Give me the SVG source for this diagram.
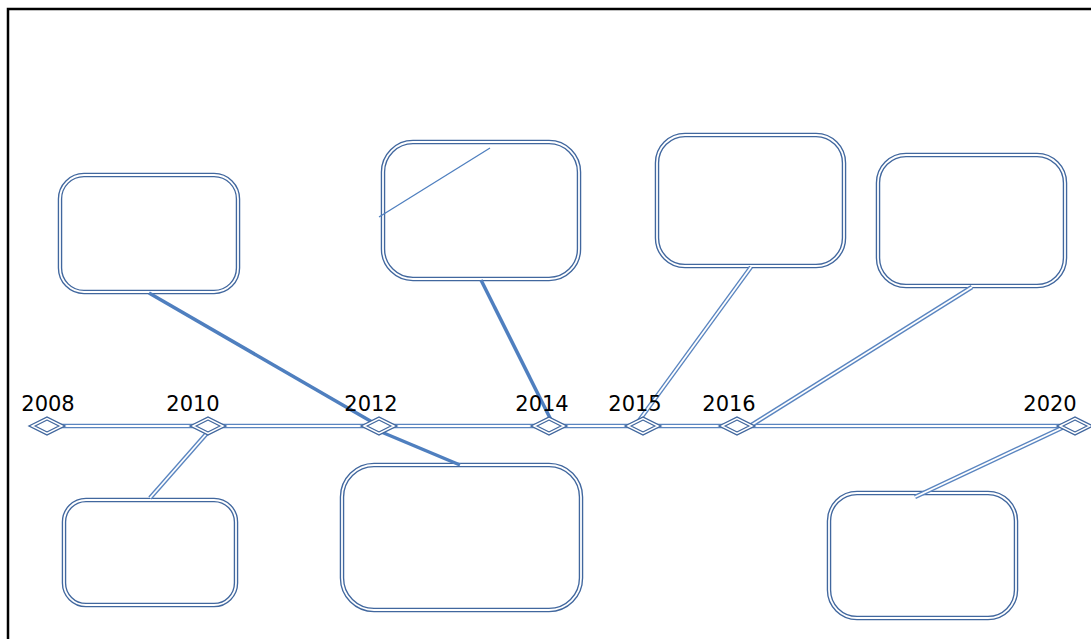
<svg xmlns="http://www.w3.org/2000/svg" width="1091" height="639" viewBox="0 0 1091 639">
<style>
.frame{fill:none;stroke:#000;stroke-width:2.5}
.dbl-o{fill:#fff;stroke:#41679e;stroke-width:4.5}
.dbl-i{fill:none;stroke:#fff;stroke-width:1.8}
.ln-o{fill:none;stroke:#5a85c0;stroke-width:4.5}
.ln-i{fill:none;stroke:#fff;stroke-width:1.8}
.thick{fill:none;stroke:#4f7fbf;stroke-width:3.5}
.thin{fill:none;stroke:#4f7fbf;stroke-width:1.3}
.dm-o{fill:#fff;stroke:#41679e;stroke-width:4}
.dm-i{fill:none;stroke:#fff;stroke-width:1.5}
.yr{font-family:"DejaVu Sans",sans-serif;font-size:21px;fill:#000;text-anchor:middle}
</style>
<rect class="frame" x="8" y="9" width="1100" height="650"/>

<g id="box1"><rect class="dbl-o" x="60" y="175" width="178" height="117" rx="24"/><rect class="dbl-i" x="60" y="175" width="178" height="117" rx="24"/></g>
<g id="box2"><rect class="dbl-o" x="383" y="142" width="196" height="137" rx="30"/><rect class="dbl-i" x="383" y="142" width="196" height="137" rx="30"/><line class="thin" x1="379" y1="217" x2="490" y2="148"/></g>
<g id="box3"><rect class="dbl-o" x="657" y="135" width="187" height="131" rx="28"/><rect class="dbl-i" x="657" y="135" width="187" height="131" rx="28"/></g>
<g id="box4"><rect class="dbl-o" x="878" y="155" width="187" height="131" rx="28"/><rect class="dbl-i" x="878" y="155" width="187" height="131" rx="28"/></g>
<g id="box5"><rect class="dbl-o" x="64" y="500" width="172" height="105" rx="22"/><rect class="dbl-i" x="64" y="500" width="172" height="105" rx="22"/></g>
<g id="box6"><rect class="dbl-o" x="342" y="465" width="239" height="145" rx="32"/><rect class="dbl-i" x="342" y="465" width="239" height="145" rx="32"/></g>
<g id="box7"><rect class="dbl-o" x="829" y="493" width="187" height="125" rx="28"/><rect class="dbl-i" x="829" y="493" width="187" height="125" rx="28"/></g>

<g id="timeline">
<line class="ln-o" x1="47" y1="426" x2="1068" y2="426"/>
<line class="ln-i" x1="47" y1="426" x2="1068" y2="426"/>
</g>

<g id="connectors">
<line class="thick" x1="149" y1="293" x2="379" y2="426"/>
<line class="thick" x1="379" y1="431" x2="460" y2="465"/>
<line class="thick" x1="481" y1="280" x2="553" y2="424"/>
<path class="ln-o" d="M751 267 L638 422"/><path class="ln-i" d="M751 267 L638 422"/>
<path class="ln-o" d="M972 287 L750 426"/><path class="ln-i" d="M972 287 L750 426"/>
<path class="ln-o" d="M208 432 L150 498"/><path class="ln-i" d="M208 432 L150 498"/>
<path class="ln-o" d="M1066 426 L915 497"/><path class="ln-i" d="M1066 426 L915 497"/>
</g>

<g id="d2008"><polygon class="dm-o" points="32,426 47,418.5 62,426 47,433.5"/><polygon class="dm-i" points="32,426 47,418.5 62,426 47,433.5"/><text class="yr" x="48" y="411">2008</text></g>
<g id="d2010"><polygon class="dm-o" points="193,426 208,418.5 223,426 208,433.5"/><polygon class="dm-i" points="193,426 208,418.5 223,426 208,433.5"/><text class="yr" x="193" y="411">2010</text></g>
<g id="d2012"><polygon class="dm-o" points="364,426 379,418.5 394,426 379,433.5"/><polygon class="dm-i" points="364,426 379,418.5 394,426 379,433.5"/><text class="yr" x="371" y="411">2012</text></g>
<g id="d2014"><polygon class="dm-o" points="534,426 549,418.5 564,426 549,433.5"/><polygon class="dm-i" points="534,426 549,418.5 564,426 549,433.5"/><text class="yr" x="542" y="411">2014</text></g>
<g id="d2015"><polygon class="dm-o" points="628,426 643,418.5 658,426 643,433.5"/><polygon class="dm-i" points="628,426 643,418.5 658,426 643,433.5"/><text class="yr" x="635" y="411">2015</text></g>
<g id="d2016"><polygon class="dm-o" points="722,426 737,418.5 752,426 737,433.5"/><polygon class="dm-i" points="722,426 737,418.5 752,426 737,433.5"/><text class="yr" x="729" y="411">2016</text></g>
<g id="d2020"><polygon class="dm-o" points="1060,426 1075,418.5 1090,426 1075,433.5"/><polygon class="dm-i" points="1060,426 1075,418.5 1090,426 1075,433.5"/><text class="yr" x="1050" y="411">2020</text></g>
</svg>
